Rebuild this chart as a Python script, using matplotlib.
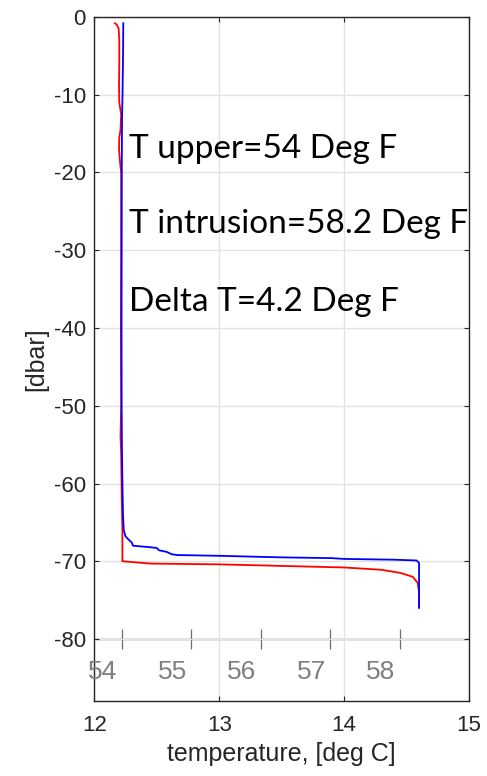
import matplotlib
matplotlib.use("Agg")
import matplotlib.pyplot as plt
import numpy as np

plt.rcParams["axes.unicode_minus"] = False

# ---- data ----
blue_temp = [12.232, 12.230, 12.226, 12.222, 12.220, 12.219, 12.218, 12.219, 12.221, 12.225,
             12.230, 12.236, 12.250, 12.280, 12.300, 12.310, 12.450, 12.500, 12.520, 12.580,
             12.620, 12.660, 13.000, 13.500, 13.900, 14.000, 14.400, 14.580, 14.600, 14.600,
             14.600, 14.600]
blue_pres = [-0.8, -5.0, -10.0, -13.0, -20.0, -30.0, -40.0, -50.0, -55.0, -60.0,
             -64.0, -66.0, -66.8, -67.3, -67.6, -68.0, -68.2, -68.3, -68.6, -68.8,
             -69.1, -69.2, -69.3, -69.5, -69.6, -69.7, -69.8, -69.9, -70.2, -72.0,
             -74.0, -76.0]

red_temp = [12.165, 12.180, 12.195, 12.200, 12.200, 12.198, 12.200, 12.215, 12.210, 12.200,
            12.198, 12.205, 12.215, 12.215, 12.213, 12.215, 12.210, 12.215, 12.220, 12.225,
            12.225, 12.450, 13.000, 13.500, 14.000, 14.300, 14.450, 14.550, 14.590, 14.600,
            14.600]
red_pres = [-0.8, -1.0, -1.5, -3.0, -6.0, -9.0, -11.0, -12.5, -14.5, -15.5,
            -17.0, -18.5, -20.0, -30.0, -40.0, -50.0, -54.0, -56.0, -62.0, -66.0,
            -70.0, -70.3, -70.4, -70.6, -70.8, -71.1, -71.5, -72.0, -72.8, -74.0,
            -75.8]

c_ticks = [12, 13, 14, 15]
p_ticks = [0, -10, -20, -30, -40, -50, -60, -70, -80]
f_ticks = [54, 55, 56, 57, 58]

notes = ["T upper=54 Deg F", "T intrusion=58.2 Deg F", "Delta T=4.2 Deg F"]
note_x = 12.28
note_y = [-18.17, -27.82, -37.77]

# ---- figure ----
W, H, DPI = 487, 776, 100
fig = plt.figure(figsize=(W / DPI, H / DPI), dpi=DPI)
ax = fig.add_axes([94.3 / W, 1 - 701.2 / H, (469 - 94.3) / W, (701.2 - 17) / H])

dark = "#262626"
ax.plot(red_temp, red_pres, color="#ff0000", lw=1.3, zorder=3)
ax.plot(blue_temp, blue_pres, color="#0000ff", lw=1.3, zorder=4)

ax.set_xlim(12, 15)
ax.set_ylim(-88, 0)
ax.set_xticks(c_ticks)
ax.set_yticks(p_ticks)
ax.grid(True, color="#e3e3e3", lw=1.0, zorder=0)
ax.set_axisbelow(True)
for s in ax.spines.values():
    s.set_color(dark)
    s.set_linewidth(1.0)
ax.tick_params(direction="in", top=True, right=True, length=3.6, width=0.8,
               color=dark, labelcolor=dark, labelsize=16)
ax.tick_params(axis="x", pad=10)
ax.tick_params(axis="y", pad=6)
for lab in ax.get_xticklabels() + ax.get_yticklabels():
    lab.set_fontfamily("Liberation Sans")

ax.set_xlabel("temperature, [deg C]", fontsize=18, color=dark,
              fontfamily="Liberation Sans", labelpad=4)
ax.set_ylabel("[dbar]", fontsize=18, color=dark,
              fontfamily="Liberation Sans", labelpad=4)

# Fahrenheit axis at -80 dbar
c2f = lambda c: np.asarray(c) * 9 / 5 + 32
f2c = lambda f: (np.asarray(f) - 32) * 5 / 9
ymin, ymax = ax.get_ylim()
loc = (-80 - ymin) / (ymax - ymin)
sec = ax.secondary_xaxis(loc, functions=(c2f, f2c))
sec.set_xticks(f_ticks)
sec.spines["bottom"].set_color("#6e6e6e")
sec.spines["bottom"].set_linewidth(1.0)
sec.tick_params(direction="inout", length=15, width=0.9, color="#6e6e6e",
                labelbottom=False)
for f in f_ticks:
    ax.annotate(str(f), xy=(f2c(f), -80), xytext=(-13.7, -23.8),
                textcoords="offset points", ha="center", va="center",
                fontsize=19, color="#7f7f7f", fontfamily="Liberation Sans")

# annotations
for t, y in zip(notes, note_y):
    ax.text(note_x, y, t, fontsize=24, fontfamily="Lato", color="black",
            ha="left", va="baseline", zorder=5)

fig.savefig("out.png", dpi=DPI)
